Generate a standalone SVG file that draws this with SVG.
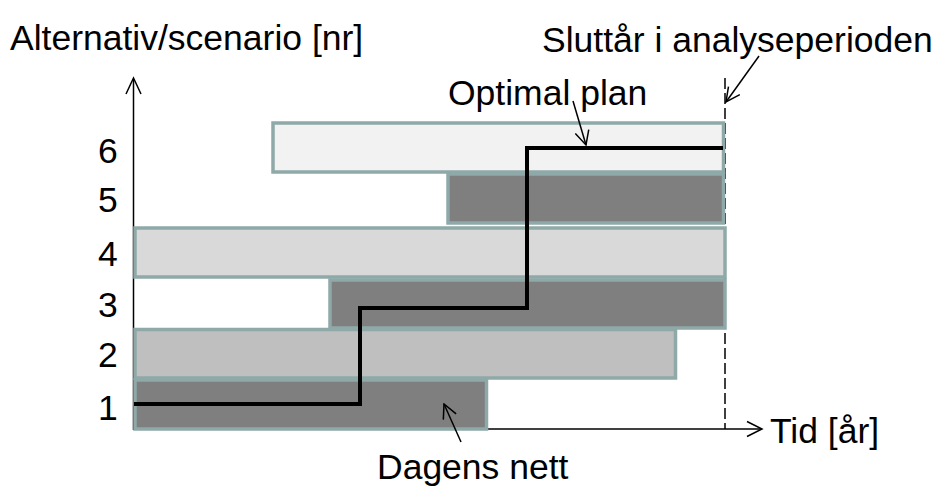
<svg xmlns="http://www.w3.org/2000/svg" width="936" height="488" viewBox="0 0 936 488">
  <style>
    text { font-family: "Liberation Sans", Arial, sans-serif; font-size: 35.5px; fill: #000; }
    .bar { stroke: #8FA9A9; stroke-width: 3.5; }
    .dark { fill: #7F7F7F; }
    .axis { stroke: #000; stroke-width: 1.5; fill: none; }
    .pointer { stroke: #000; stroke-width: 1.5; fill: none; marker-end: url(#openhead); }
  </style>
  <defs>
    <marker id="openhead" viewBox="0 0 16 16" refX="15" refY="8" markerWidth="16" markerHeight="16" markerUnits="userSpaceOnUse" orient="auto">
      <path d="M1,1 L15,8 L1,15" fill="none" stroke="#000" stroke-width="1.5"/>
    </marker>
  </defs>

  <!-- axes and end-of-period marker -->
  <g id="axes">
    <line class="axis" x1="133.5" y1="430" x2="133.5" y2="79"/>
    <path class="axis" d="M126,94 L133.5,78 L141,94"/>
    <line class="axis" x1="133.5" y1="429" x2="761" y2="429"/>
    <path class="axis" d="M747,421.5 L762,429 L747,436.5"/>
    <line class="axis" x1="725" y1="78" x2="725" y2="429" stroke-dasharray="11,4"/>
  </g>

  <!-- alternative bars -->
  <g id="alt6"><rect class="bar" x="273" y="123" width="450.5" height="49" fill="#F2F2F2"/></g>
  <g id="alt5"><rect class="bar dark" x="448" y="174" width="275.5" height="49"/></g>
  <g id="alt4"><rect class="bar" x="135" y="228" width="590" height="49" fill="#D9D9D9"/></g>
  <g id="alt3"><rect class="bar dark" x="330" y="280" width="395" height="48"/></g>
  <g id="alt2"><rect class="bar" x="135" y="329.5" width="540.5" height="48.5" fill="#BFBFBF"/></g>
  <g id="alt1"><rect class="bar dark" x="135" y="380" width="351.5" height="49"/></g>

  <!-- optimal plan path and pointers -->
  <g id="connectors">
    <path d="M134,404 L360,404 L360,308 L527,308 L527,148 L723,148" fill="none" stroke="#000" stroke-width="4" stroke-linejoin="miter"/>
    <line class="pointer" x1="759" y1="56" x2="726" y2="102"/>
    <line class="pointer" x1="573" y1="101" x2="586" y2="145"/>
    <line class="pointer" x1="461" y1="442" x2="444" y2="404"/>
  </g>

  <!-- labels -->
  <g id="labels">
    <text x="10" y="50">Alternativ/scenario [nr]</text>
    <text x="542" y="52">Sluttår i analyseperioden</text>
    <text x="448" y="105">Optimal plan</text>
    <text x="770" y="443">Tid [år]</text>
    <text x="377" y="479">Dagens nett</text>
    <text x="98" y="163">6</text>
    <text x="98" y="212">5</text>
    <text x="98" y="266">4</text>
    <text x="98" y="317">3</text>
    <text x="98" y="367">2</text>
    <text x="98" y="420">1</text>
  </g>
</svg>
